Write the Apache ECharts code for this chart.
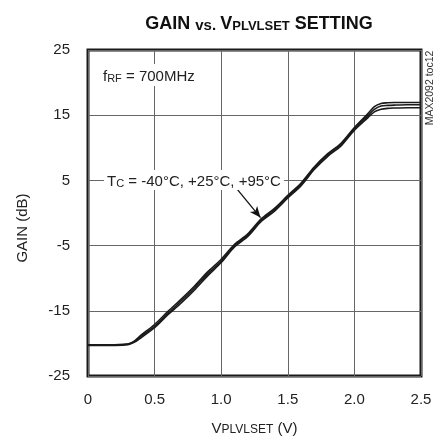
<!DOCTYPE html>
<html><head><meta charset="utf-8">
<script src="https://cdn.jsdelivr.net/npm/echarts@6/dist/echarts.min.js"></script>
<style>html,body{margin:0;padding:0;background:#fff}#c{width:441px;height:441px}</style>
</head><body><div id="c"></div>
<script>
var vset = [0,0.1,0.2,0.3,0.35,0.4,0.5,0.6,0.7,0.8,0.9,1.0,1.1,1.2,1.3,1.4,1.5,1.6,1.7,1.8,1.9,2.0,2.1,2.15,2.2,2.25,2.3,2.4,2.5];
var gainM40 = [-20.2,-20.2,-20.2,-20.1,-19.6,-18.7,-17.1,-15.1,-13.2,-11.2,-9.0,-7.1,-4.8,-3.2,-0.9,0.7,2.7,4.6,7.1,9.1,10.7,13.1,15.2,16.3,16.8,16.9,16.95,16.95,16.95];
var gain25  = [-20.2,-20.2,-20.2,-20.1,-19.7,-18.9,-17.4,-15.4,-13.5,-11.5,-9.3,-7.4,-5.0,-3.4,-1.1,0.5,2.5,4.4,6.9,8.9,10.5,12.9,14.9,15.9,16.4,16.5,16.55,16.6,16.6];
var gain95  = [-20.3,-20.3,-20.3,-20.2,-19.8,-19.1,-17.6,-15.6,-13.8,-11.8,-9.6,-7.6,-5.2,-3.6,-1.3,0.3,2.3,4.2,6.7,8.7,10.3,12.7,14.6,15.5,15.9,16.05,16.1,16.15,16.15];
var xTicks = ['0','0.5','1.0','1.5','2.0','2.5'];
var yTicks = ['-25','-15','-5','5','15','25'];
var arrowFrom = [1.07, 4.9];
var arrowTo = [1.295, -0.7];

function pairs(ys){ return vset.map(function(x,i){ return [x, ys[i]]; }); }
var FN = "'Liberation Sans Narrow','Liberation Sans',Arial,sans-serif";
var chart = echarts.init(document.getElementById('c'), null, {renderer:'canvas'});
function lineSeries(name, ys, extra){
  var s = {name:name, type:'line', data:pairs(ys), showSymbol:false, smooth:0.3,
    lineStyle:{color:'#1a1a1a', width:1.6}, animation:false, z:3};
  if (extra) for (var k in extra) s[k]=extra[k];
  return s;
}
chart.setOption({
  animation:false,
  title:{
    text:'{b|GAIN }{m|vs. }{b|V}{s|PLVLSET}{b| SETTING}',
    left:254, top:8, textAlign:'center',
    textStyle:{rich:{
      b:{fontFamily:FN, fontWeight:'bold', fontSize:18, color:'#111', lineHeight:20, verticalAlign:'bottom'},
      m:{fontFamily:FN, fontWeight:'bold', fontSize:15, color:'#111', lineHeight:20, verticalAlign:'bottom'},
      s:{fontFamily:FN, fontWeight:'bold', fontSize:13, color:'#111', lineHeight:18, verticalAlign:'bottom'}
    }}
  },
  grid:{left:88, right:20, top:50, bottom:61, show:true, borderColor:'#1a1a1a', borderWidth:3, containLabel:false},
  xAxis:{
    type:'value', min:0, max:2.5, interval:0.5,
    axisLine:{show:false}, axisTick:{show:false},
    splitLine:{show:true, lineStyle:{color:'#666', width:1}},
    axisLabel:{margin:16, fontFamily:FN, fontSize:15, color:'#222',
      formatter:function(v){ var i=Math.round(v/0.5); return xTicks[i]; }},
    name:'{v|V}{s|PLVLSET}{v| (V)}', nameLocation:'middle', nameGap:42,
    nameTextStyle:{rich:{
      v:{fontFamily:FN, fontSize:15, color:'#222', lineHeight:18, verticalAlign:'bottom'},
      s:{fontFamily:FN, fontSize:12, color:'#222', lineHeight:16, verticalAlign:'bottom'}
    }}
  },
  yAxis:{
    type:'value', min:-25, max:25, interval:10,
    axisLine:{show:false}, axisTick:{show:false},
    splitLine:{show:true, lineStyle:{color:'#666', width:1}},
    axisLabel:{margin:18, fontFamily:FN, fontSize:15, color:'#222',
      formatter:function(v){ var i=Math.round((v+25)/10); return yTicks[i]; }},
    name:'GAIN (dB)', nameLocation:'middle', nameGap:58,
    nameTextStyle:{fontFamily:FN, fontSize:15, color:'#222', padding:[0,30,0,0]}
  },
  series:[
    lineSeries('-40°C', gainM40, {markLine:{silent:true, animation:false, symbol:['none','arrow'], symbolSize:[7,11],
      label:{show:false}, emphasis:{disabled:true}, lineStyle:{color:'#111', width:1.3, type:'solid'},
      data:[[{coord:arrowFrom, symbol:'none'},{coord:arrowTo, symbol:'arrow', symbolSize:[7,11]}]]}}),
    lineSeries('+25°C', gain25),
    lineSeries('+95°C', gain95)
  ],
  graphic:[
    {type:'text', left:100, top:64, z:10, style:{
      text:'{a|f}{s|RF}{a| = 700MHz}', backgroundColor:'#fff', padding:[2,3,2,3],
      rich:{a:{fontFamily:FN, fontSize:15, fill:'#222', lineHeight:18, verticalAlign:'bottom'},
            s:{fontFamily:FN, fontSize:11, fill:'#222', lineHeight:15, verticalAlign:'bottom'}}}},
    {type:'text', left:104, top:170, z:10, style:{
      text:'{a|T}{s|C}{a| = -40°C, +25°C, +95°C}', backgroundColor:'#fff', padding:[1,3,1,3],
      rich:{a:{fontFamily:FN, fontSize:15, fill:'#222', lineHeight:18, verticalAlign:'bottom'},
            s:{fontFamily:FN, fontSize:11, fill:'#222', lineHeight:15, verticalAlign:'bottom'}}}},
    {type:'text', x:430, y:88, rotation:Math.PI/2, z:10, style:{
      text:'MAX2092 toc12', fontFamily:FN, fontSize:10.5, fill:'#333', align:'center', verticalAlign:'middle'}}
  ]
});
</script></body></html>
